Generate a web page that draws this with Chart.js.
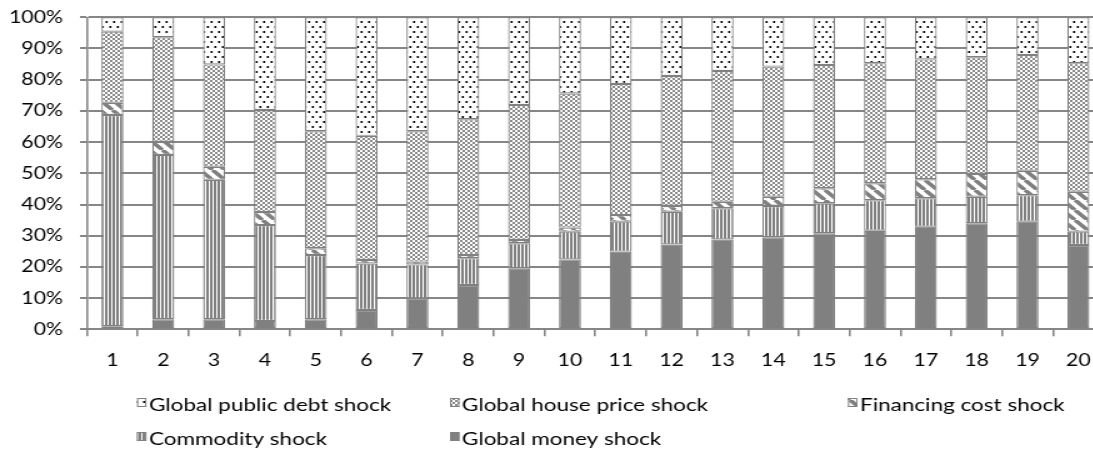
<!DOCTYPE html>
<html>
<head>
<meta charset="utf-8">
<script src="https://cdn.jsdelivr.net/npm/chart.js@4"></script>
<style>
  html, body { margin: 0; padding: 0; background: #fff; overflow: hidden; }
  #wrap { position: absolute; left: 0; top: 0; transform: scaleX(1.25); transform-origin: 0 0; }
</style>
</head>
<body>
<div id="wrap"><canvas id="chart" width="883" height="452"></canvas></div>
<script>
// horizons 1..20, share of variance by shock (%)
const horizons = ["1","2","3","4","5","6","7","8","9","10","11","12","13","14","15","16","17","18","19","20"];
const moneyShock     = [1.0, 3.2, 3.2, 2.7, 3.2, 6.2, 9.9, 14.2, 19.6, 22.4, 24.9, 27.2, 28.8, 29.5, 30.8, 31.6, 32.9, 34.0, 34.5, 27.0];
const commodityShock = [67.7, 52.7, 44.7, 30.7, 20.6, 14.9, 10.9, 8.6, 8.0, 8.9, 9.6, 10.5, 10.0, 10.0, 9.6, 9.8, 9.1, 8.5, 8.5, 4.3];
const financingShock = [3.9, 4.2, 4.2, 4.2, 2.2, 1.1, 0.9, 1.0, 1.0, 1.3, 2.1, 1.8, 2.1, 3.0, 4.8, 5.4, 6.1, 7.3, 7.8, 12.8];
const houseShock     = [22.8, 33.5, 32.8, 32.7, 37.5, 39.8, 41.8, 43.5, 43.3, 43.0, 42.0, 41.7, 41.9, 41.7, 39.5, 38.5, 38.4, 37.4, 37.1, 41.2];
const debtShock      = [4.6, 6.4, 15.1, 29.7, 36.5, 38.0, 36.5, 32.7, 28.1, 24.4, 21.4, 18.8, 17.2, 15.8, 15.3, 14.7, 13.5, 12.8, 12.1, 14.7];

const GRAY = "#808080";
const FONT = 'Lato, "Open Sans", sans-serif';

function tile(w, h, draw) {
  const c = document.createElement("canvas");
  c.width = w; c.height = h;
  const t = c.getContext("2d");
  t.fillStyle = "#fff"; t.fillRect(0, 0, w, h);
  draw(t);
  return t.createPattern(c, "repeat");
}

const patDots = tile(6, 10, t => {
  t.fillStyle = "#000";
  t.fillRect(0.5, 1, 1.6, 2);
  t.fillRect(3.5, 6, 1.6, 2);
});
const patChecker = tile(4, 4, t => {
  t.fillStyle = "#8a8a8a";
  t.fillRect(0, 0, 2, 2);
  t.fillRect(2, 2, 2, 2);
});
const patDiag = tile(10, 10, t => {
  t.strokeStyle = GRAY; t.lineWidth = 3.5;
  [-10, 0, 10].forEach(x0 => { t.beginPath(); t.moveTo(x0, 0); t.lineTo(x0 + 10, 10); t.stroke(); });
});
const patVert = tile(3, 1, t => {
  t.fillStyle = GRAY; t.fillRect(0, 0, 2, 1);
});

const legendItems = [
  { text: "Global public debt shock", fill: patDots, ix: 109.6, row: 0 },
  { text: "Global house price shock", fill: patChecker, ix: 360, row: 0 },
  { text: "Financing cost shock", fill: patDiag, ix: 678.4, row: 0 },
  { text: "Commodity shock", fill: patVert, ix: 109.6, row: 1 },
  { text: "Global money shock", fill: GRAY, ix: 360, row: 1 }
];

// Excel-style legend: fixed columns, two rows
const gridLegend = {
  id: "gridLegend",
  afterDraw(chart) {
    const ctx = chart.ctx;
    ctx.save();
    ctx.font = "18px " + FONT;
    ctx.textBaseline = "alphabetic";
    legendItems.forEach(it => {
      const base = it.row === 0 ? 411 : 445;
      const top = base - 13;
      ctx.fillStyle = it.fill;
      ctx.fillRect(it.ix, top, 7.5, 9);
      ctx.strokeStyle = GRAY; ctx.lineWidth = 1;
      ctx.strokeRect(it.ix + 0.5, top + 0.5, 6.5, 8);
      ctx.fillStyle = "#000";
      ctx.fillText(it.text, it.ix + 9.6, base);
    });
    ctx.restore();
  }
};

const ds = (label, data, fill) => ({
  label, data, backgroundColor: fill, borderColor: GRAY, borderWidth: 1.2, borderSkipped: false,
  barPercentage: 0.433, categoryPercentage: 1
});

new Chart(document.getElementById("chart").getContext("2d"), {
  type: "bar",
  data: {
    labels: horizons,
    datasets: [
      ds("Global money shock", moneyShock, GRAY),
      ds("Commodity shock", commodityShock, patVert),
      ds("Financing cost shock", financingShock, patDiag),
      ds("Global house price shock", houseShock, patChecker),
      ds("Global public debt shock", debtShock, patDots)
    ]
  },
  options: {
    responsive: false,
    animation: false,
    devicePixelRatio: 1,
    layout: { padding: { top: 17.3, right: 0, bottom: 0, left: 0 } },
    plugins: { legend: { display: false }, tooltip: { enabled: false } },
    scales: {
      x: {
        stacked: true,
        grid: { drawOnChartArea: false, drawTicks: true, tickLength: 7, color: "#868686", lineWidth: 1.6 },
        border: { color: "#868686", width: 2 },
        ticks: { color: "#000", font: { family: FONT, size: 17 }, padding: 14.5, maxRotation: 0 },
        afterFit: s => { s.height = 122.7; s.paddingLeft = 0; s.paddingRight = 0; }
      },
      y: {
        stacked: true, min: 0, max: 100,
        grid: { color: "#868686", lineWidth: 2, tickLength: 5.6 },
        border: { color: "#868686", width: 1.6 },
        ticks: { stepSize: 10, color: "#000", font: { family: FONT, size: 17 }, padding: 13.6, callback: v => v + "%" },
        afterFit: s => { s.width = 69.6; s.paddingTop = 0; s.paddingBottom = 0; }
      }
    }
  },
  plugins: [gridLegend]
});
</script>
</body>
</html>
